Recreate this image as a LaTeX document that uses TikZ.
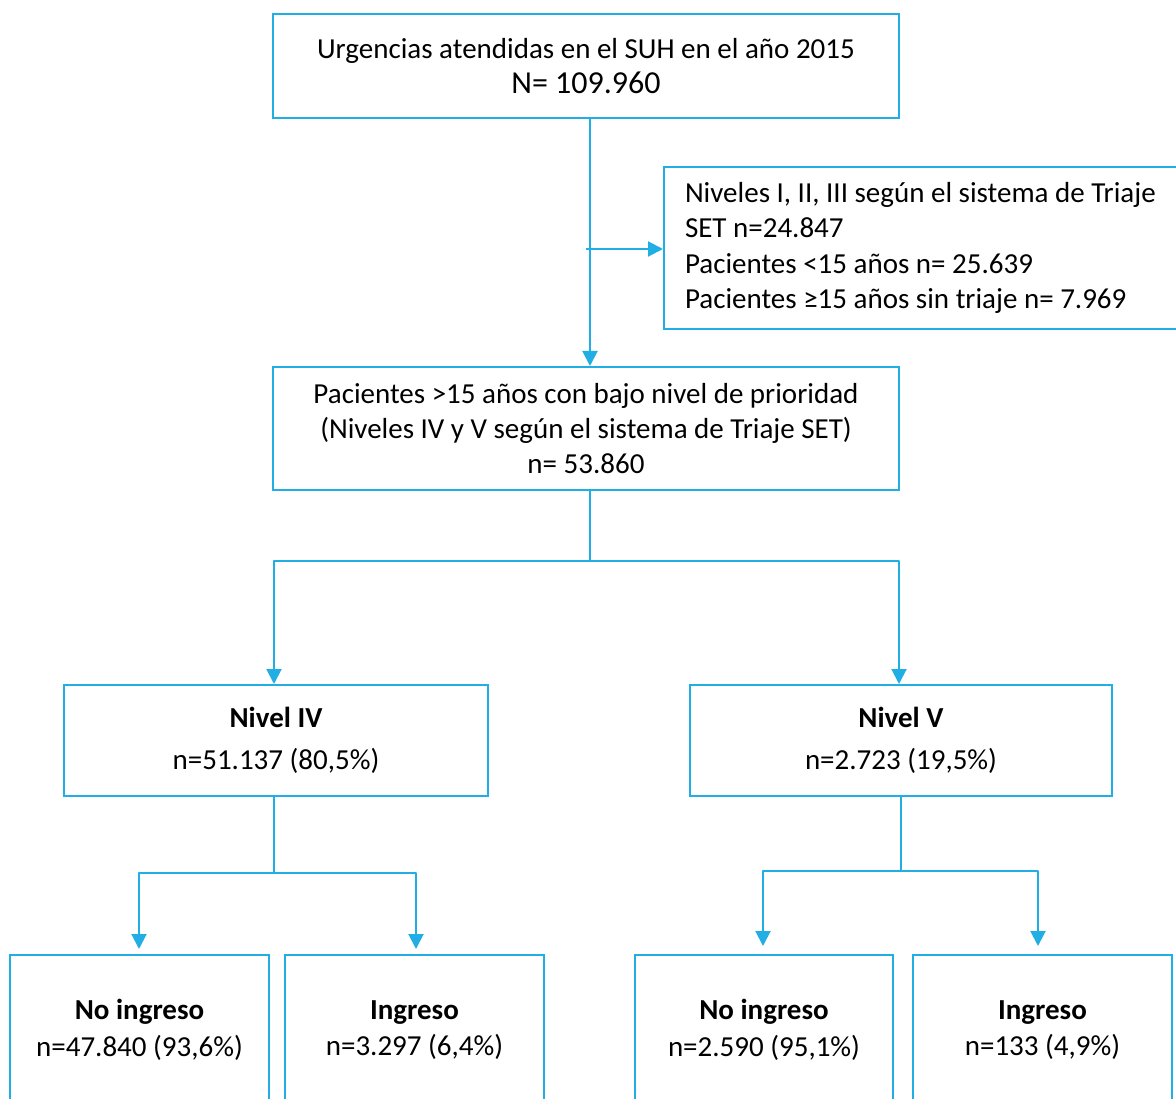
\documentclass[tikz,border=0pt]{standalone}
\usepackage{fontspec}
\setmainfont{Carlito}
\usetikzlibrary{arrows.meta}
\definecolor{cy}{RGB}{32,174,228}
\begin{document}
\begin{tikzpicture}[x=1pt,y=-1pt,
 box/.style={draw=cy,line width=2pt,rectangle,inner sep=0pt,align=center,font=\fontsize{29}{35.4}\selectfont},
 conn/.style={draw=cy,line width=2pt,line join=round},
 arr/.style={conn,-{Triangle[width=15pt,length=15pt]}}]
\useasboundingbox (0,0) rectangle (1176,1099);
\clip (0,0) rectangle (1176,1099);

\node[box,minimum width=626pt,minimum height=104pt] (top) at (586,66)
 {Urgencias atendidas en el SUH en el año 2015\\{\fontsize{32}{38}\selectfont N= 109.960}};
\node[box,anchor=north west,align=flush left,text width=520pt,inner xsep=21pt,minimum height=162pt] (side) at (663,166)
 {Niveles I, II, III según el sistema de Triaje\\SET n=24.847\\Pacientes <15 años n= 25.639\\Pacientes ≥15 años sin triaje n= 7.969};
\node[box,minimum width=626pt,minimum height=123pt] (mid) at (586,428.5)
 {Pacientes >15 años con bajo nivel de prioridad\\(Niveles IV y V según el sistema de Triaje SET)\\n= 53.860};
\node[box,minimum width=424pt,minimum height=111pt] (n4) at (276,740.5)
 {\textbf{Nivel IV}\\[6pt]n=51.137 (80,5\%)};
\node[box,minimum width=422pt,minimum height=111pt] (n5) at (901,740.5)
 {\textbf{Nivel V}\\[6pt]n=2.723 (19,5\%)};
\node[box,anchor=north,minimum width=259pt,minimum height=150pt] (b1) at (139.5,954)
 {\textbf{No ingreso}\\[1pt]n=47.840 (93,6\%)};
\node[box,anchor=north,minimum width=259pt,minimum height=150pt] (b2) at (414.5,954)
 {\textbf{Ingreso}\\[1pt]n=3.297 (6,4\%)};
\node[box,anchor=north,minimum width=258pt,minimum height=150pt] (b3) at (764,954)
 {\textbf{No ingreso}\\[1pt]n=2.590 (95,1\%)};
\node[box,anchor=north,minimum width=259pt,minimum height=150pt] (b4) at (1042.5,954)
 {\textbf{Ingreso}\\[1pt]n=133 (4,9\%)};

\coordinate (c1) at (590,0);
\draw[arr] (top.south -| c1) -- (mid.north -| c1);
\coordinate (s0) at (586,249);
\draw[arr] (s0) -- (side.west |- s0);

\coordinate (j1) at (590,561);
\coordinate (k4) at (274,0);
\coordinate (k5) at (899,0);
\draw[conn] (mid.south -| j1) -- (j1);
\draw[arr] (j1) -| (n4.north -| k4);
\draw[arr] (j1) -| (n5.north -| k5);

\coordinate (j2) at (274,873);
\coordinate (m1) at (139,0);
\coordinate (m2) at (416,0);
\draw[conn] (n4.south -| j2) -- (j2);
\draw[arr,shorten >=5pt] (j2) -| (b1.north -| m1);
\draw[arr,shorten >=5pt] (j2) -| (b2.north -| m2);

\coordinate (j3) at (901,871);
\coordinate (m3) at (763,0);
\coordinate (m4) at (1038,0);
\draw[conn] (n5.south -| j3) -- (j3);
\draw[arr,shorten >=8pt] (j3) -| (b3.north -| m3);
\draw[arr,shorten >=8pt] (j3) -| (b4.north -| m4);
\end{tikzpicture}
\end{document}
